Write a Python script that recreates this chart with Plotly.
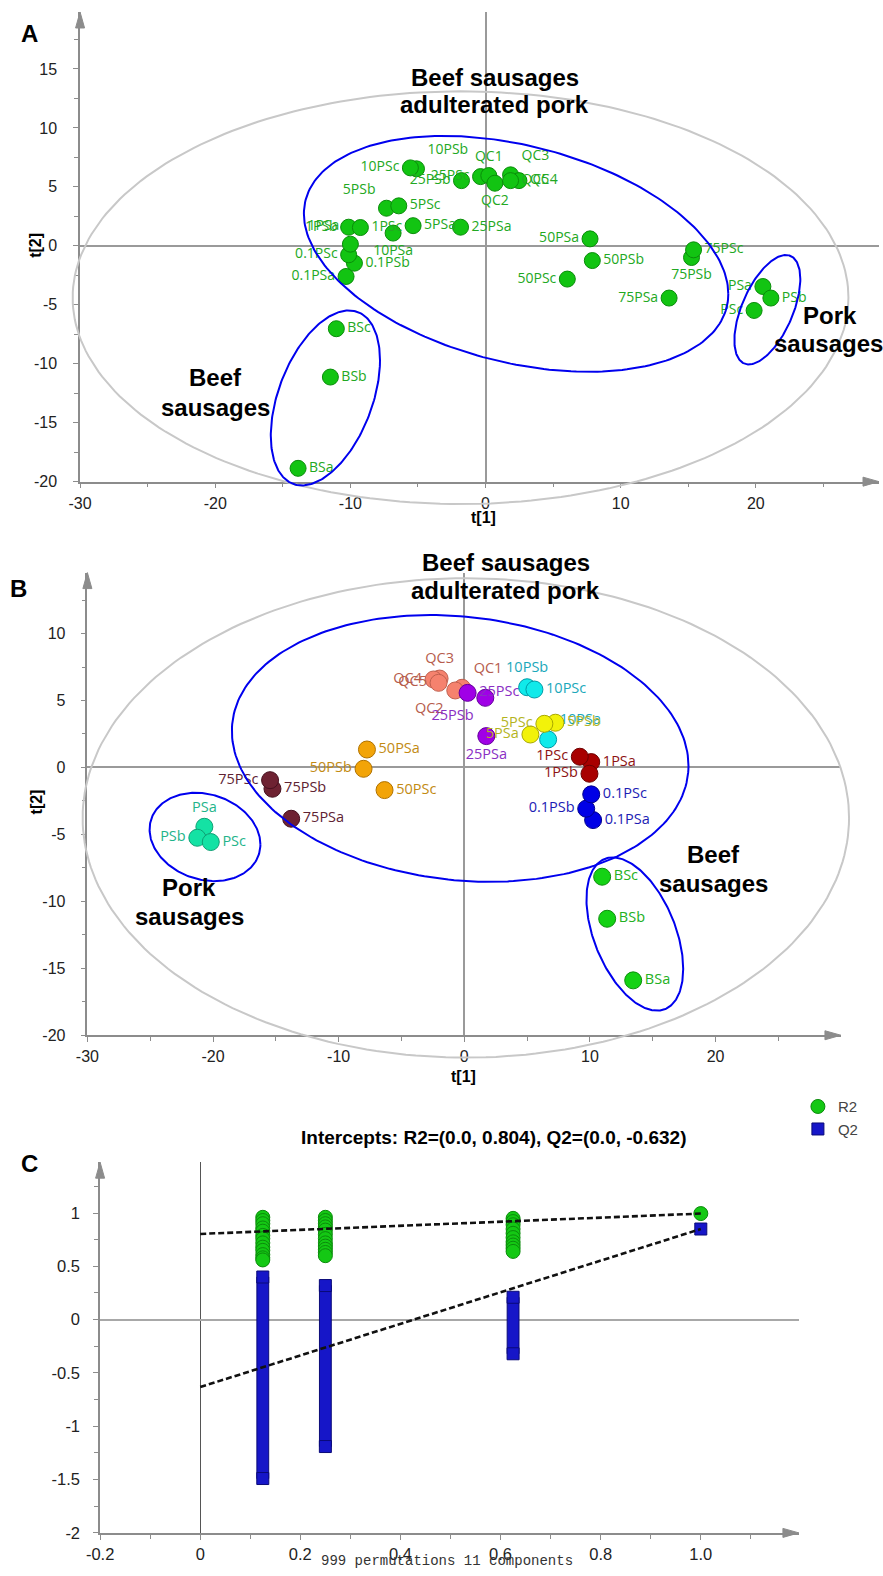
import numpy as np
import plotly.graph_objects as go

W, H = 883, 1576

# ------------------------------------------------------------------ DATA
# Panel A : scores t[1] / t[2]  (all samples, one colour)
a_labels = ["BSa", "BSb", "BSc", "PSa", "PSb", "PSc",
            "0.1PSa", "0.1PSb", "0.1PSc", "1PSa", "1PSb", "1PSc",
            "5PSa", "5PSb", "5PSc", "10PSa", "10PSb", "10PSc",
            "25PSa", "25PSb", "25PSc", "50PSa", "50PSb", "50PSc",
            "75PSa", "75PSb", "75PSc", "QC1", "QC2", "QC3", "QC4", "QC5"]
a_t1 = [-13.87, -11.48, -11.04, 20.52, 21.11, 19.87,
        -10.32, -9.70, -10.13, -10.00, -10.13, -9.26,
        -5.36, -7.33, -6.42, -6.84, -5.11, -5.56,
        -1.85, -1.78, -0.37, 7.73, 7.90, 6.05,
        13.58, 15.24, 15.39, 0.24, 0.69, 1.85, 2.47, 1.85]
a_t2 = [-18.87, -11.13, -7.03, -3.45, -4.43, -5.48,
        -2.60, -1.47, -0.76, 0.14, 1.58, 1.55,
        1.71, 3.19, 3.39, 1.08, 6.53, 6.61,
        1.58, 5.53, 5.87, 0.59, -1.25, -2.82,
        -4.43, -0.99, -0.34, 5.96, 5.31, 6.02, 5.53, 5.53]

# Panel B : scores t[1] / t[2]  (coloured by group)
b_labels = ["BSa", "BSb", "BSc", "PSa", "PSb", "PSc",
            "0.1PSa", "0.1PSb", "0.1PSc", "1PSa", "1PSb", "1PSc",
            "5PSa", "5PSb", "5PSc", "10PSa", "10PSb", "10PSc",
            "25PSa", "25PSb", "25PSc", "50PSa", "50PSb", "50PSc",
            "75PSa", "75PSb", "75PSc", "QC1", "QC2", "QC3", "QC4", "QC5"]
b_t1 = [13.44, 11.37, 10.97, -20.69, -21.25, -20.18,
        10.25, 9.70, 10.10, 10.10, 9.96, 9.19,
        5.26, 7.25, 6.37, 6.67, 5.00, 5.58,
        1.75, 1.67, 0.26, -7.75, -8.02, -6.35,
        -13.78, -15.27, -15.46, -0.18, -0.72, -1.97, -2.45, -2.05]
b_t2 = [-15.90, -11.30, -8.16, -4.43, -5.25, -5.57,
        -3.93, -3.08, -2.01, 0.40, -0.47, 0.80,
        2.46, 3.34, 3.26, 2.09, 5.99, 5.82,
        2.34, 5.20, 5.57, 1.34, -0.10, -1.69,
        -3.83, -1.59, -0.95, 5.95, 5.75, 6.64, 6.57, 6.32]
b_groups = ["50PS", "75PS", "PS", "BS", "0.1PS", "1PS", "QC", "25PS", "10PS", "5PS"]

# Panel C : permutation test (999 permutations)
perm_corr = [0.125, 0.25, 0.625]
r2_perm = [[0.96, 0.93, 0.90, 0.86, 0.83, 0.79, 0.76, 0.72, 0.68, 0.65, 0.61, 0.58, 0.56],
           [0.96, 0.93, 0.90, 0.87, 0.84, 0.80, 0.76, 0.72, 0.69, 0.66, 0.63, 0.60],
           [0.95, 0.92, 0.89, 0.85, 0.81, 0.77, 0.73, 0.70, 0.67, 0.64]]
q2_perm_max = [0.40, 0.32, 0.21]
q2_perm_min = [-1.49, -1.19, -0.32]
orig_corr = 1.0
r2_orig = 0.995
q2_orig = 0.85
r2_intercept = 0.804
q2_intercept = -0.632
c_title = "Intercepts: R2=(0.0, 0.804), Q2=(0.0, -0.632)"
c_footer = "999 permutations 11 components"

# tick labels
ab_xticks = [-30, -20, -10, 0, 10, 20]
a_yticks = [-20, -15, -10, -5, 0, 5, 10, 15]
b_yticks = [-20, -15, -10, -5, 0, 5, 10]
c_xticks = [-0.2, 0, 0.2, 0.4, 0.6, 0.8, 1.0]
c_xticklabels = ["-0.2", "0", "0.2", "0.4", "0.6", "0.8", "1.0"]
c_yticks = [-2, -1.5, -1, -0.5, 0, 0.5, 1]
c_yticklabels = ["-2", "-1.5", "-1", "-0.5", "0", "0.5", "1"]

# ------------------------------------------------------------------ GEOMETRY (target pixels)
XA, XB = 0.983, 14.0   # horizontal calibration of the photographed page
YA = 0.995             # vertical calibration


def PX(x):
    return min(1.0, max(0.0, (x - XB) / XA / W))


def PY(y):
    return min(1.0, max(0.0, 1 - (y / YA) / H))


A_box = dict(l=80, r=878, t=12, b=482)
B_box = dict(l=87.3, r=840, t=573, b=1036)
C_box = dict(l=100, r=798, t=1163, b=1534)
A_k = (13.5, 11.8)     # px per unit (x, y)
B_k = (12.55, 13.4)
C_k = (500.0, 106.7)
A_xr = [-30, -30 + (A_box["r"] - A_box["l"]) / A_k[0]]
A_yr = [-20, -20 + (A_box["b"] - A_box["t"]) / A_k[1]]
B_xr = [-30, -30 + (B_box["r"] - B_box["l"]) / B_k[0]]
B_yr = [-20, -20 + (B_box["b"] - B_box["t"]) / B_k[1]]
C_xr = [-0.2, -0.2 + (C_box["r"] - C_box["l"]) / C_k[0]]
C_yr = [-2, -2 + (C_box["b"] - C_box["t"]) / C_k[1]]

AX_GREY = "#8c8c8c"
TICKFONT = dict(family="Liberation Sans, Arial", size=16, color="#222")
LABFONT = "Open Sans, Noto Sans"

a_pos = {"BSa": "middle right", "BSb": "middle right", "BSc": "middle right",
         "PSa": "middle left", "PSb": "middle right", "PSc": "middle left",
         "0.1PSa": "middle left", "0.1PSb": "middle right", "0.1PSc": "middle left",
         "1PSa": "top left", "1PSb": "middle left", "1PSc": "middle right",
         "5PSa": "middle right", "5PSb": "top left", "5PSc": "middle right",
         "10PSa": "bottom center", "10PSb": "top right", "10PSc": "middle left",
         "25PSa": "middle right", "25PSb": "middle left", "25PSc": "middle left",
         "50PSa": "middle left", "50PSb": "middle right", "50PSc": "middle left",
         "75PSa": "middle left", "75PSb": "bottom center", "75PSc": "middle right",
         "QC1": "top center", "QC2": "bottom center", "QC3": "top right",
         "QC4": "middle right", "QC5": "middle right"}
b_pos = {"BSa": "middle right", "BSb": "middle right", "BSc": "middle right",
         "PSa": "top center", "PSb": "middle left", "PSc": "middle right",
         "0.1PSa": "middle right", "0.1PSb": "middle left", "0.1PSc": "middle right",
         "1PSa": "middle right", "1PSb": "middle left", "1PSc": "middle left",
         "5PSa": "middle left", "5PSb": "middle right", "5PSc": "middle left",
         "10PSa": "top right", "10PSb": "top center", "10PSc": "middle right",
         "25PSa": "bottom center", "25PSb": "bottom left", "25PSc": "middle right",
         "50PSa": "middle right", "50PSb": "middle left", "50PSc": "middle right",
         "75PSa": "middle right", "75PSb": "middle right", "75PSc": "middle left",
         "QC1": "top right", "QC2": "bottom left", "QC3": "top center",
         "QC4": "middle left", "QC5": "middle left"}
b_style = {  # fill, outline, text
    "BS": ("#14d214", "#0b8f0b", "#22b022"),
    "PS": ("#14e2a4", "#0ea074", "#1fb48a"),
    "0.1PS": ("#0000e6", "#00008c", "#1c1cb4"),
    "1PS": ("#a80000", "#6c0000", "#8e1212"),
    "5PS": ("#f2f20a", "#a8a800", "#b4b41e"),
    "10PS": ("#10eaea", "#009aa6", "#1aa8ba"),
    "25PS": ("#a000e6", "#64009c", "#8a2ec4"),
    "50PS": ("#f2a408", "#b07200", "#c28a12"),
    "75PS": ("#6e2232", "#46101e", "#5e2232"),
    "QC": ("#f5826e", "#c0604e", "#b65c4c"),
}


def grp(label):
    return "QC" if label.startswith("QC") else label[:-1]


def dom(box):
    return ([PX(box["l"]), PX(box["r"])], [PY(box["b"]), PY(box["t"])])


def overlay(box, xr, k, yr, pad_l=22, pad_r=0, pad_b=50):
    """Invisible axes with the same scale as a panel but a larger area (for the ellipses)."""
    big = dict(l=box["l"] - pad_l, r=box["r"] + pad_r, t=box["t"], b=box["b"] + pad_b)
    dx, dy = dom(big)
    return (dict(domain=dx, range=[xr[0] - pad_l / k[0], xr[1] + pad_r / k[0]]),
            dict(domain=dy, range=[yr[0] - pad_b / k[1], yr[1]]))


def ellipse(cx, cy, w, h, rho, n=241):
    t = np.linspace(0, 2 * np.pi, n)
    return cx + w * np.cos(t), cy + h * (rho * np.cos(t) + np.sqrt(1 - rho ** 2) * np.sin(t))


# ellipse annotations: (cx, cy, half-width, half-height, tilt, colour)
a_ellipses = [(-1.85, -4.4, 28.7, 17.5, 0.0, "#c8c8c8"),
              (2.26, -0.68, 15.7, 10.0, -0.34, "#0000ee"),
              (-11.85, -12.9, 4.04, 7.42, 0.43, "#0000ee"),
              (20.85, -5.42, 2.44, 4.64, 0.56, "#0000ee")]
b_ellipses = [(0.12, -3.77, 30.5, 17.9, 0.0, "#c8c8c8"),
              (-0.33, 1.42, 18.17, 9.96, -0.13, "#0000ee"),
              (-20.64, -5.19, 4.41, 3.30, -0.17, "#0000ee"),
              (13.57, -12.44, 3.85, 5.72, -0.456, "#0000ee")]

fig = go.Figure()

# ------------------------------------------------------------------ PANEL A
fig.add_trace(go.Scatter(
    x=a_t1, y=a_t2, mode="markers+text", text=a_labels,
    textposition=[a_pos[l] for l in a_labels],
    textfont=dict(family=LABFONT, size=14, color="#22a822"),
    marker=dict(size=16, color="#12c412", line=dict(color="#0a8c0a", width=1)),
    cliponaxis=False, showlegend=False, hoverinfo="skip", xaxis="x", yaxis="y"))

# ------------------------------------------------------------------ PANEL B
for g in b_groups:
    idx = [i for i, l in enumerate(b_labels) if grp(l) == g]
    fill, line, tcol = b_style[g]
    fig.add_trace(go.Scatter(
        x=[b_t1[i] for i in idx], y=[b_t2[i] for i in idx],
        text=[b_labels[i] for i in idx], mode="markers+text",
        textposition=[b_pos[b_labels[i]] for i in idx],
        textfont=dict(family=LABFONT, size=14.5, color=tcol),
        marker=dict(size=17, color=fill, line=dict(color=line, width=1)),
        cliponaxis=False, showlegend=False, hoverinfo="skip", xaxis="x2", yaxis="y2"))

# ------------------------------------------------------------------ PANEL C
r2_x, r2_y = [], []
for c, vals in zip(perm_corr, r2_perm):
    r2_x += [c] * len(vals)
    r2_y += vals
r2_x.append(orig_corr)
r2_y.append(r2_orig)
fig.add_trace(go.Scatter(
    x=r2_x, y=r2_y, mode="markers", name="R2",
    marker=dict(symbol="circle", size=14, color="#14c814", line=dict(color="#0b8a0b", width=1)),
    hoverinfo="skip", xaxis="x3", yaxis="y3"))
fig.add_trace(go.Bar(
    x=perm_corr, y=[mx - mn for mx, mn in zip(q2_perm_max, q2_perm_min)], base=q2_perm_min,
    width=0.0236, name="Q2",
    marker=dict(color="#1616c8", line=dict(color="#0a0a78", width=1)),
    hoverinfo="skip", xaxis="x3", yaxis="y3"))
fig.add_trace(go.Scatter(
    x=perm_corr + perm_corr + [orig_corr], y=q2_perm_max + q2_perm_min + [q2_orig],
    mode="markers", showlegend=False,
    marker=dict(symbol="square", size=12, color="#1616c8", line=dict(color="#0a0a78", width=1)),
    hoverinfo="skip", xaxis="x3", yaxis="y3"))
for icpt, end in ((r2_intercept, r2_orig), (q2_intercept, q2_orig)):
    fig.add_trace(go.Scatter(
        x=[0, orig_corr], y=[icpt, end], mode="lines", showlegend=False,
        line=dict(color="#111", width=2.6, dash="6px,3px"),
        hoverinfo="skip", xaxis="x3", yaxis="y3"))

# ------------------------------------------------------------------ ELLIPSES (overlay plots)
for (cx, cy, w, h, rho, col) in a_ellipses:
    ex, ey = ellipse(cx, cy, w, h, rho)
    fig.add_trace(go.Scatter(x=ex, y=ey, mode="lines", line=dict(color=col, width=2),
                             showlegend=False, hoverinfo="skip", xaxis="x4", yaxis="y4"))
for (cx, cy, w, h, rho, col) in b_ellipses:
    ex, ey = ellipse(cx, cy, w, h, rho)
    fig.add_trace(go.Scatter(x=ex, y=ey, mode="lines", line=dict(color=col, width=2),
                             showlegend=False, hoverinfo="skip", xaxis="x5", yaxis="y5"))


# ------------------------------------------------------------------ AXES
def xax(box, rng, tickvals, ticktext=None, minor=5.0, zcol="#9a9a9a", zw=1.5, font=TICKFONT):
    return dict(domain=dom(box)[0], range=rng, showgrid=False, zeroline=True, zerolinecolor=zcol,
                zerolinewidth=zw, showline=True, linecolor=AX_GREY, linewidth=1.5,
                ticks="outside", ticklen=5, tickcolor=AX_GREY, tickwidth=1,
                tickvals=tickvals, ticktext=ticktext or [str(v) for v in tickvals],
                tickfont=font, ticklabelstandoff=1,
                minor=dict(dtick=minor, tick0=0, ticks="outside", ticklen=4,
                           tickcolor=AX_GREY, showgrid=False),
                fixedrange=True)


def yax(box, rng, tickvals, ticktext=None, minor=2.5, standoff=14, zcol="#9a9a9a", zw=1.5,
        font=TICKFONT):
    return dict(domain=dom(box)[1], range=rng, showgrid=False, zeroline=True, zerolinecolor=zcol,
                zerolinewidth=zw, showline=True, linecolor=AX_GREY, linewidth=1.5,
                ticks="outside", ticklen=5, tickcolor=AX_GREY, tickwidth=1,
                tickvals=tickvals, ticktext=ticktext or [str(v) for v in tickvals],
                tickfont=font, ticklabelstandoff=standoff,
                minor=dict(dtick=minor, tick0=0, ticks="outside", ticklen=4,
                           tickcolor=AX_GREY, showgrid=False),
                fixedrange=True)


a_ovx, a_ovy = overlay(A_box, A_xr, A_k, A_yr, pad_r=0)
b_ovx, b_ovy = overlay(B_box, B_xr, B_k, B_yr, pad_r=20)
CFONT = dict(family="Liberation Sans, Arial", size=16.5, color="#222")

layout = dict(
    width=W, height=H, autosize=False,
    margin=dict(l=0, r=0, t=0, b=0, pad=0),
    paper_bgcolor="white", plot_bgcolor="rgba(0,0,0,0)",
    xaxis=dict(xax(A_box, A_xr, ab_xticks), anchor="y"),
    yaxis=dict(yax(A_box, A_yr, a_yticks, standoff=13), anchor="x"),
    xaxis2=dict(xax(B_box, B_xr, ab_xticks), anchor="y2"),
    yaxis2=dict(yax(B_box, B_yr, b_yticks, standoff=12), anchor="x2"),
    xaxis3=dict(xax(C_box, C_xr, c_xticks, c_xticklabels, minor=0.1, zcol="#555", zw=1,
                    font=CFONT), anchor="y3"),
    yaxis3=dict(yax(C_box, C_yr, c_yticks, c_yticklabels, minor=0.25, standoff=10,
                    zcol="#a8a8a8", zw=2, font=CFONT), anchor="x3"),
    xaxis4=dict(a_ovx, visible=False, anchor="y4", fixedrange=True),
    yaxis4=dict(a_ovy, visible=False, anchor="x4", fixedrange=True),
    xaxis5=dict(b_ovx, visible=False, anchor="y5", fixedrange=True),
    yaxis5=dict(b_ovy, visible=False, anchor="x5", fixedrange=True),
    showlegend=True,
    legend=dict(x=PX(797), y=PY(1091), xanchor="left", yanchor="top",
                bgcolor="rgba(0,0,0,0)",
                font=dict(family="Liberation Sans, Arial", size=15, color="#444"),
                traceorder="normal"),
    barmode="overlay",
)
fig.update_layout(**layout)

# arrow heads at axis ends
shapes = []
for box in (A_box, B_box, C_box):
    shapes.append(dict(type="path", xref="paper", yref="paper", xsizemode="pixel",
                       ysizemode="pixel", xanchor=PX(box["r"]), yanchor=PY(box["b"]),
                       path="M -16,-4.5 L 0,0 L -16,4.5 Z", fillcolor=AX_GREY,
                       line=dict(color=AX_GREY, width=1)))
    shapes.append(dict(type="path", xref="paper", yref="paper", xsizemode="pixel",
                       ysizemode="pixel", xanchor=PX(box["l"]), yanchor=PY(box["t"]),
                       path="M -4.5,-16 L 0,0 L 4.5,-16 Z", fillcolor=AX_GREY,
                       line=dict(color=AX_GREY, width=1)))
fig.update_layout(shapes=shapes)


def ann(text, xpx, ypx, size, color="#000", family="Liberation Sans, Arial", angle=0,
        bold=True):
    return dict(text=("<b>%s</b>" % text) if bold else text, x=PX(xpx), y=PY(ypx),
                xref="paper", yref="paper", xanchor="center", yanchor="middle",
                showarrow=False, textangle=angle,
                font=dict(family=family, size=size, color=color))


anns = [
    ann("A", 29, 34, 24), ann("B", 18, 589, 24), ann("C", 29, 1164, 24),
    ann("Beef sausages", 494, 78, 24), ann("adulterated pork", 494, 105, 24),
    ann("Pork", 829, 316, 24), ann("sausages", 828, 344, 24),
    ann("Beef", 215, 378, 24), ann("sausages", 215, 408, 24),
    ann("Beef sausages", 505, 563, 24), ann("adulterated pork", 505, 591, 24),
    ann("Pork", 189, 888, 24), ann("sausages", 189, 917, 24),
    ann("Beef", 713, 855, 24), ann("sausages", 713, 884, 24),
    ann("t[2]", 36, 246, 16, angle=-90), ann("t[1]", 483, 518, 16),
    ann("t[2]", 36, 803, 16, angle=-90), ann("t[1]", 463, 1077, 16),
    ann(c_title, 493, 1138, 19),
    ann(c_footer, 446, 1562, 14, color="#333", family="Liberation Mono, DejaVu Sans Mono",
        bold=False),
]
fig.update_layout(annotations=anns)

fig.write_html(
    "out.html", config={"displayModeBar": False},
    post_script=("var s=document.createElement('style');"
                 "s.textContent='html,body{margin:0;padding:0;overflow:hidden;}';"
                 "document.head.appendChild(s);document.body.style.margin='0px';"))
